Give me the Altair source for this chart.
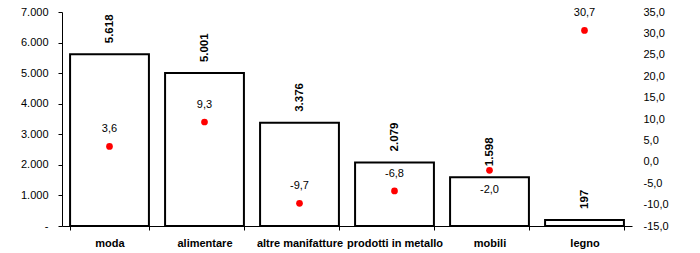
import altair as alt
import pandas as pd

categories = ["moda", "alimentare", "altre manifatture", "prodotti in metallo", "mobili", "legno"]
values = [5618, 5001, 3376, 2079, 1598, 197]
changes = [3.6, 9.3, -9.7, -6.8, -2.0, 30.7]
label_below = [False, False, False, False, True, False]

def it_int(v):
    return f"{v:,}".replace(",", ".")

def it_dec(v):
    return f"{v:.1f}".replace(".", ",")

df = pd.DataFrame({
    "cat": categories,
    "val": values,
    "chg": changes,
    "val_lbl": [it_int(v) for v in values],
    "chg_lbl": [it_dec(v) for v in changes],
    "below": label_below,
})

FONT = "Liberation Sans"

x = alt.X("cat:N", sort=categories, title=None,
          scale=alt.Scale(paddingInner=0.17, paddingOuter=0.085),
          axis=alt.Axis(labelAngle=0, labelFont=FONT, labelFontSize=11, labelFontWeight="bold",
                        labelColor="black", domainColor="black", tickColor="black",
                        tickBand="extent", tickSize=4, labelPadding=7, domainWidth=1))

yleft = alt.Y("val:Q", title=None,
              scale=alt.Scale(domain=[0, 7000], nice=False),
              axis=alt.Axis(values=[0, 1000, 2000, 3000, 4000, 5000, 6000, 7000],
                            labelExpr="datum.value == 0 ? '-' : replace(format(datum.value, ',.0f'), ',', '.')",
                            labelFont=FONT, labelFontSize=11, labelColor="black",
                            domainColor="black", tickColor="black", tickSize=4,
                            labelPadding=10, grid=False))

left_base = alt.Chart(df).encode(x=x, y=yleft)
bars = left_base.mark_bar(fill="white", stroke="black", strokeWidth=2)
bar_text = left_base.mark_text(angle=270, align="left", baseline="middle", dx=11,
                               font=FONT, fontSize=11.5, fontWeight="bold", color="black").encode(
    text="val_lbl:N")
left = alt.layer(bars, bar_text)

yright = alt.Y("chg:Q", title=None,
               scale=alt.Scale(domain=[-15, 35], nice=False),
               axis=alt.Axis(orient="right", values=list(range(-15, 40, 5)),
                             labelExpr="replace(replace(format(datum.value, '.1f'), '.', ','), '\u2212', '-')",
                             labelFont=FONT, labelFontSize=11, labelColor="black",
                             domain=False, ticks=False, labelPadding=11, grid=False))

right_base = alt.Chart(df).encode(x=x, y=yright)
dots = right_base.mark_circle(color="#ff0000", size=45, opacity=1)
dot_text_above = right_base.mark_text(dy=-17, font=FONT, fontSize=11, color="black").encode(
    text="chg_lbl:N").transform_filter("!datum.below")
dot_text_below = right_base.mark_text(dy=20, font=FONT, fontSize=11, color="black").encode(
    text="chg_lbl:N").transform_filter("datum.below")
right = alt.layer(dots, dot_text_above, dot_text_below)

chart = alt.layer(left, right).resolve_scale(y="independent").properties(
    width=570, height=214,
    autosize=alt.AutoSizeParams(type="none"),
    padding={"left": 62, "top": 12, "right": 68, "bottom": 27},
    background="white",
).configure_view(stroke=None)

chart.save("out.html", embed_options={"renderer": "svg", "actions": False})
